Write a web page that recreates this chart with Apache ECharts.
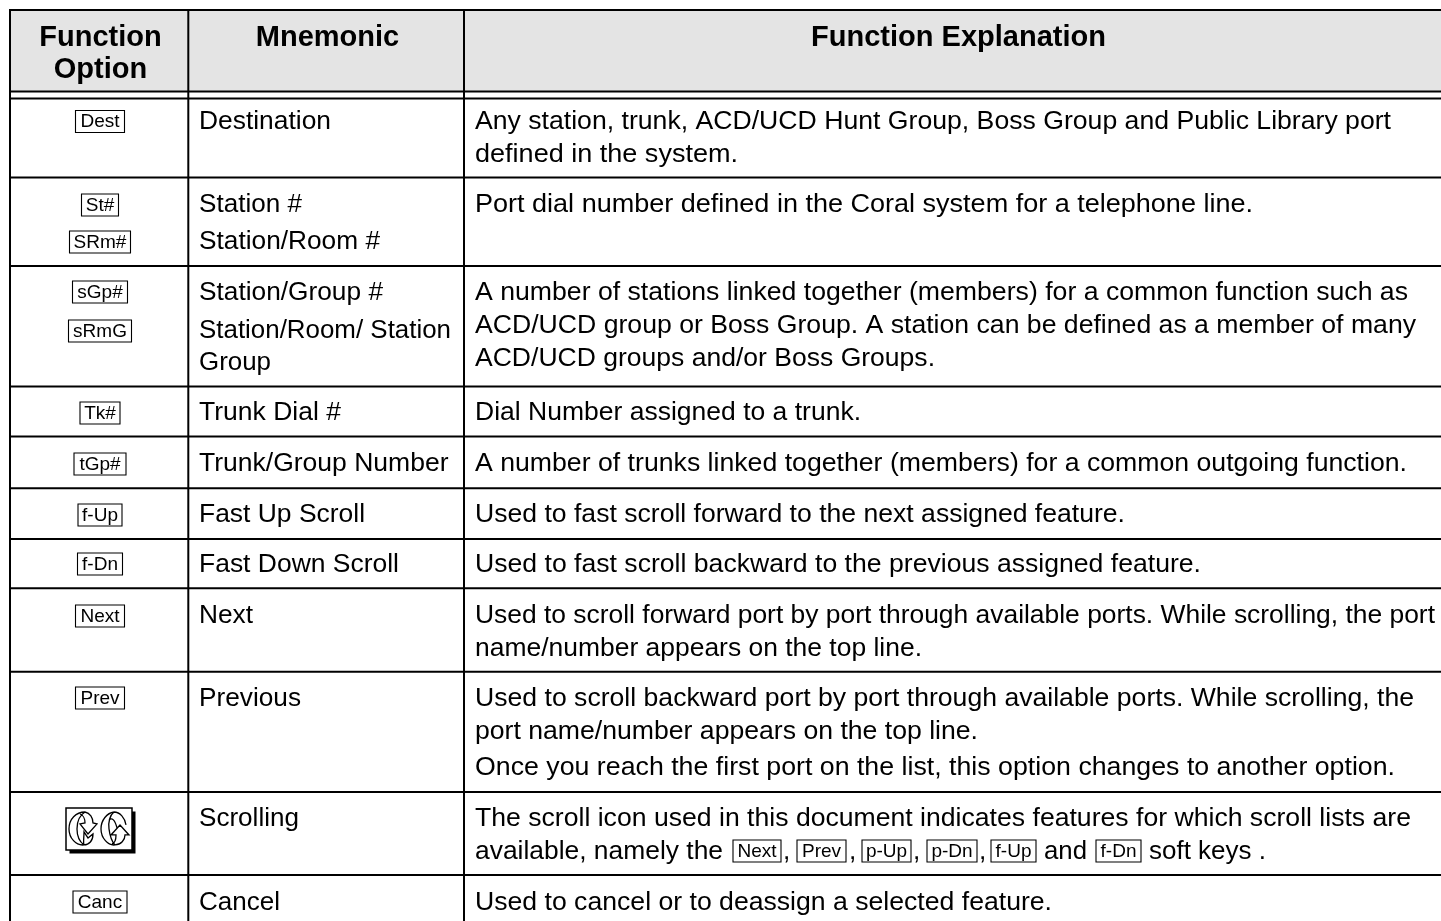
<!DOCTYPE html>
<html>
<head>
<meta charset="utf-8">
<title>Function options</title>
<style>html,body{margin:0;padding:0;background:#fff;overflow:hidden}#c{width:1441px;height:921px}</style>
<script src="https://cdn.jsdelivr.net/npm/echarts@6/dist/echarts.min.js"></script>
</head>
<body>
<div id="c"></div>
<script>
// ---- table content ----
const headers = [['Function', 'Option'], ['Mnemonic'], ['Function Explanation']];
const functionOptions = [['Dest'], ['St#', 'SRm#'], ['sGp#', 'sRmG'], ['Tk#'], ['tGp#'], ['f-Up'], ['f-Dn'], ['Next'], ['Prev'], [], ['Canc']];
const mnemonics = [
  ['Destination'],
  ['Station #', 'Station/Room #'],
  ['Station/Group #', 'Station/Room/ Station', 'Group'],
  ['Trunk Dial #'],
  ['Trunk/Group Number'],
  ['Fast Up Scroll'],
  ['Fast Down Scroll'],
  ['Next'],
  ['Previous'],
  ['Scrolling'],
  ['Cancel']
];
const explanations = [
  ['Any station, trunk, ACD/UCD Hunt Group, Boss Group and Public Library port', 'defined in the system.'],
  ['Port dial number defined in the Coral system for a telephone line.'],
  ['A number of stations linked together (members) for a common function such as', 'ACD/UCD group or Boss Group. A station can be defined as a member of many', 'ACD/UCD groups and/or Boss Groups.'],
  ['Dial Number assigned to a trunk.'],
  ['A number of trunks linked together (members) for a common outgoing function.'],
  ['Used to fast scroll forward to the next assigned feature.'],
  ['Used to fast scroll backward to the previous assigned feature.'],
  ['Used to scroll forward port by port through available ports. While scrolling, the port', 'name/number appears on the top line.'],
  ['Used to scroll backward port by port through available ports. While scrolling, the', 'port name/number appears on the top line.', 'Once you reach the first port on the list, this option changes to another option.'],
  ['The scroll icon used in this document indicates features for which scroll lists are'],
  ['Used to cancel or to deassign a selected feature.']
];
// inline run of the scrolling row: plain text and soft-key labels
const scrollRun = [['t', 'available, namely the'], ['k', 'Next'], ['t', ','], ['k', 'Prev'], ['t', ','], ['k', 'p-Up'], ['t', ','], ['k', 'p-Dn'], ['t', ','], ['k', 'f-Up'], ['t', 'and'], ['k', 'f-Dn'], ['t', 'soft keys .']];

// ---- layout (separate from content) ----
const L = {
  W: 1441, H: 921,
  left: 10, col1: 188.3, col2: 464, top: 10, headBottom: 91.5, headDouble: 98.5,
  rowLines: [177.5, 266, 386.5, 436.5, 488.3, 539, 588.3, 671.7, 792, 875],
  keyCx: 100,
  mnemX: 199, explX: 475,
  headX: [100.5, 327.5, 958.5],
  headY: [[38, 70], [38], [38]],
  mnemY: [[122], [205, 242], [293, 331, 363], [413], [464], [515], [565], [616], [699], [819], [903]],
  explY: [[122, 155], [205], [293, 326, 359], [413], [464], [515], [565], [616, 649], [699, 732, 768], [819], [903]],
  mnemEnd: [[331], [302, 380], [383, 451, 271], [341], [448.5], [365], [399], [253], [301], [299], [280]],
  explEnd: [[1391, 738], [1253], [1408, 1416, 935], [861], [1407], [1125], [1201], [1435, 922], [1414, 978, 1395], [1411], [1052]],
  keyY: [[121.5], [205, 242], [292, 331], [413], [464], [515], [564], [616], [698], [], [902]],
  keyW: { Dest: 49, 'St#': 37, 'SRm#': 61, 'sGp#': 55, sRmG: 63, 'Tk#': 40, 'tGp#': 52, 'f-Up': 44, 'f-Dn': 45, Next: 49, Prev: 49, Canc: 54 },
  runY: 852, runKeyY: 851,
  runX: [475, 733, 783, 797, 849, 862, 913, 927, 979, 991, 1044, 1096, 1149],
  runEnd: { 'available, namely the': 723, and: 1087, 'soft keys .': 1266 },
  runKeyW: { Next: 48, Prev: 49, 'p-Up': 49, 'p-Dn': 50, 'f-Up': 45, 'f-Dn': 45 },
  icon: { x: 66, y: 808, w: 66, h: 42, sh: 3.5, glyphY: 812, glyphH: 33, glyphW: 28, leftX: 69, rightX: 101 }
};
const FF = '"Liberation Sans", Arial, sans-serif';
const BODY = '26.2px ' + FF, HEAD = 'bold 29px ' + FF, KEY = '19px ' + FF;

const ctx = document.createElement('canvas').getContext('2d');
function fit(t, font, x, end) { ctx.font = font; return (end - x) / ctx.measureText(t).width; }

// ---- draw list ----
const fills = [], rules = [], labels = [], boxes = [];
fills.push([L.left, L.top, L.W, L.headBottom]);
[L.top, L.headBottom, L.headDouble].concat(L.rowLines).forEach(y => rules.push([L.left - 1, y, L.W, y]));
[L.left, L.col1, L.col2].forEach(x => rules.push([x, L.top, x, L.H]));

headers.forEach((h, i) => h.forEach((t, j) => labels.push({ x: L.headX[i], y: L.headY[i][j], t, f: HEAD, a: 'center', sx: 1 })));
mnemonics.forEach((r, i) => r.forEach((t, j) => labels.push({ x: L.mnemX, y: L.mnemY[i][j], t, f: BODY, a: 'left', sx: fit(t, BODY, L.mnemX, L.mnemEnd[i][j]) })));
explanations.forEach((r, i) => r.forEach((t, j) => labels.push({ x: L.explX, y: L.explY[i][j], t, f: BODY, a: 'left', sx: fit(t, BODY, L.explX, L.explEnd[i][j]) })));
function addKey(t, x, y, w) {
  boxes.push([x, y - 11, w, 22]);
  labels.push({ x: x + w / 2, y: y + 0.5, t, f: KEY, a: 'center', sx: 1 });
}
functionOptions.forEach((r, i) => r.forEach((t, j) => addKey(t, L.keyCx - L.keyW[t] / 2, L.keyY[i][j], L.keyW[t])));
scrollRun.forEach((p, i) => {
  if (p[0] === 't') {
    const end = L.runEnd[p[1]];
    labels.push({ x: L.runX[i], y: L.runY, t: p[1], f: BODY, a: 'left', sx: end ? fit(p[1], BODY, L.runX[i], end) : 1 });
  } else addKey(p[1], L.runX[i], L.runKeyY, L.runKeyW[p[1]]);
});

const ICON_L = 'M16 0C7 0 0 7 0 17C0 26 7 34 15 33C20 33 24 29 24 22L19 26L15 20C15 26 14 30 15 33M16 0C11 3 8 9 8 17C8 24 11 30 15 33M16 0C21 1 24 6 24 11L28 12L19 22L11 12L16 11C16 7 14 3 11 2';
const ICON_R = 'M13 0C6 1 0 8 0 17C0 26 7 34 14 33C20 33 24 28 24 23L28 23L19 13L10 23L15 23C15 27 14 31 11 32M13 0C9 3 7 10 8 17C9 25 11 30 14 33M13 0C19 0 24 6 25 13M8 8C11 5 14 8 16 16';

function rectEl(api, r, style) {
  const a = api.coord([r[0], r[1]]), b = api.coord([r[0] + r[2], r[1] + r[3]]);
  return { type: 'rect', shape: { x: a[0], y: a[1], width: b[0] - a[0], height: b[1] - a[1] }, style };
}
const ic = L.icon;
const base = { type: 'custom', coordinateSystem: 'cartesian2d', clip: false, silent: true, animation: false };
const seq = a => a.map((_, i) => [i]);
function glyph(api, d, x) {
  const c = api.coord([x, ic.glyphY]);
  return { type: 'path', shape: { pathData: d, x: c[0], y: c[1], width: ic.glyphW, height: ic.glyphH, layout: 'cover' }, style: { fill: 'none', stroke: '#000', lineWidth: 1.3 } };
}

const option = {
  animation: false,
  backgroundColor: '#ffffff',
  grid: { left: 0, right: 0, top: 0, bottom: 0, containLabel: false },
  xAxis: { type: 'value', min: 0, max: L.W, show: false },
  yAxis: { type: 'value', min: 0, max: L.H, inverse: true, show: false },
  tooltip: { show: false },
  series: [
    Object.assign({}, base, { name: 'header', z: 1, data: seq(fills), renderItem: (p, api) => {
      const f = fills[p.dataIndex];
      const a = api.coord([f[0], f[1]]), b = api.coord([f[2], f[3]]);
      return { type: 'rect', shape: { x: a[0], y: a[1], width: b[0] - a[0], height: b[1] - a[1] }, style: { fill: '#e4e4e4' } };
    } }),
    Object.assign({}, base, { name: 'rules', z: 2, data: seq(rules), renderItem: (p, api) => {
      const r = rules[p.dataIndex];
      const a = api.coord([r[0], r[1]]), b = api.coord([r[2], r[3]]);
      return { type: 'line', shape: { x1: a[0], y1: a[1], x2: b[0], y2: b[1] }, style: { stroke: '#000', lineWidth: 2 } };
    } }),
    Object.assign({}, base, { name: 'keys', z: 3, data: seq(boxes), renderItem: (p, api) =>
      rectEl(api, boxes[p.dataIndex], { fill: '#fff', stroke: '#000', lineWidth: 1.1 })
    }),
    Object.assign({}, base, { name: 'icon', z: 3, data: [[0]], renderItem: (p, api) => ({
      type: 'group', children: [
        rectEl(api, [ic.x + ic.sh, ic.y + ic.sh, ic.w, ic.h], { fill: '#000' }),
        rectEl(api, [ic.x, ic.y, ic.w, ic.h], { fill: '#fff', stroke: '#000', lineWidth: 1.5 }),
        glyph(api, ICON_L, ic.leftX),
        glyph(api, ICON_R, ic.rightX)
      ]
    }) }),
    Object.assign({}, base, { name: 'text', z: 4, data: seq(labels), renderItem: (p, api) => {
      const l = labels[p.dataIndex];
      const c = api.coord([l.x, l.y]);
      return { type: 'text', x: c[0], y: c[1], scaleX: l.sx, style: { x: 0, y: 0, text: l.t, font: l.f, fill: '#000', textAlign: l.a, textVerticalAlign: 'middle' } };
    } })
  ]
};
const chart = echarts.init(document.getElementById('c'), null, { renderer: 'canvas' });
chart.setOption(option);
</script>
</body>
</html>
